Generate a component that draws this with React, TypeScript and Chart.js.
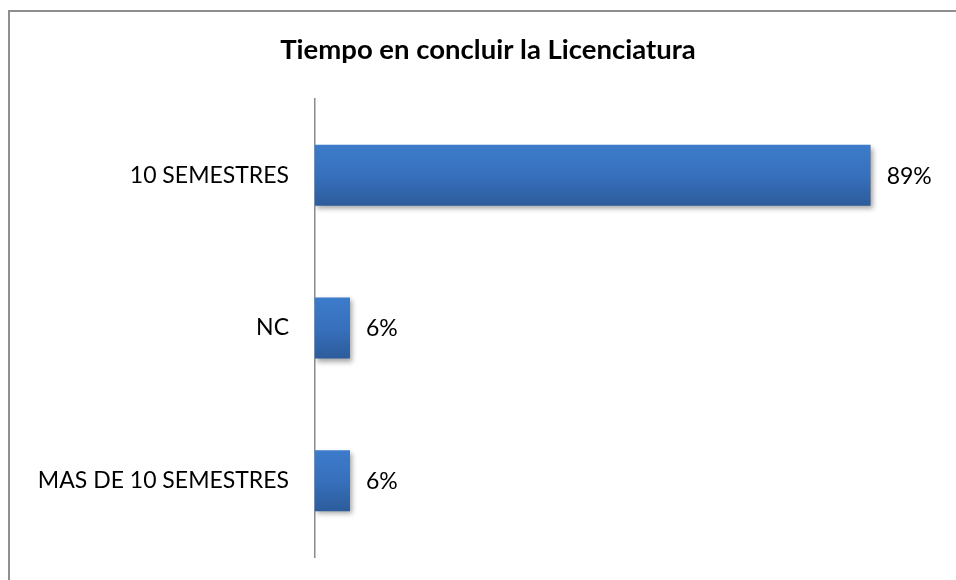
import React, { useEffect, useRef } from "react";
import { Chart, registerables } from "chart.js";

Chart.register(...registerables);

const TITLE = "Tiempo en concluir la Licenciatura";
const categories = ["10 SEMESTRES", "NC", "MAS DE 10 SEMESTRES"];
const values = [88.9, 5.6, 5.6];
const valueLabels = ["89%", "6%", "6%"];
const axisMax = 100;

const FONT = "Lato, 'Open Sans', sans-serif";

export default function App() {
  const ref = useRef<HTMLCanvasElement | null>(null);

  useEffect(() => {
    if (!ref.current) return;

    const frame = {
      id: "frame",
      beforeDraw(chart: any) {
        const c = chart.ctx;
        c.save();
        c.fillStyle = "#ffffff";
        c.fillRect(0, 0, chart.width, chart.height);
        c.strokeStyle = "#8f8f8f";
        c.lineWidth = 2;
        c.beginPath();
        c.moveTo(9, chart.height);
        c.lineTo(9, 11);
        c.lineTo(chart.width, 11);
        c.stroke();
        c.fillStyle = "#000";
        c.font = `bold 27.5px ${FONT}`;
        c.textAlign = "center";
        c.textBaseline = "middle";
        c.fillText(TITLE, 488, 50);
        c.restore();
      },
    };

    const shadow = {
      id: "barShadow",
      beforeDatasetDraw(chart: any) {
        const c = chart.ctx;
        c.save();
        c.shadowColor = "rgba(0,0,0,0.35)";
        c.shadowBlur = 5;
        c.shadowOffsetX = 2;
        c.shadowOffsetY = 3;
      },
      afterDatasetDraw(chart: any) {
        chart.ctx.restore();
      },
    };

    const labelsPlugin = {
      id: "valueLabels",
      afterDatasetsDraw(chart: any) {
        const c = chart.ctx;
        const meta = chart.getDatasetMeta(0);
        c.save();
        c.fillStyle = "#000";
        c.font = `23px ${FONT}`;
        c.textAlign = "left";
        c.textBaseline = "middle";
        meta.data.forEach((bar: any, i: number) => {
          c.fillText(valueLabels[i], bar.x + 16, bar.y + 1);
        });
        c.restore();
      },
    };

    const chart = new Chart(ref.current, {
      type: "bar",
      data: {
        labels: categories,
        datasets: [
          {
            data: values,
            categoryPercentage: 0.8,
            barPercentage: 0.5,
            borderWidth: 0,
            backgroundColor: (ctx: any) => {
              const ch = ctx.chart;
              const y = ch.scales?.y;
              const area = ch.chartArea;
              if (!y || !area) return "#3a72bb";
              const center = y.getPixelForValue(ctx.dataIndex);
              const h = (area.height / categories.length) * 0.4;
              const g = ch.ctx.createLinearGradient(0, center - h / 2, 0, center + h / 2);
              g.addColorStop(0, "#3c7ccb");
              g.addColorStop(0.5, "#3770bd");
              g.addColorStop(1, "#2c5c9b");
              return g;
            },
          },
        ],
      },
      options: {
        indexAxis: "y",
        responsive: false,
        animation: false,
        layout: { autoPadding: false, padding: { top: 99, bottom: 23, left: 0, right: 16 } },
        plugins: {
          legend: { display: false },
          title: { display: false },
          tooltip: { enabled: false },
        },
        scales: {
          x: {
            display: false,
            min: 0,
            max: axisMax,
            afterFit: (s: any) => {
              s.paddingLeft = 0;
              s.paddingRight = 0;
              s.paddingTop = 0;
              s.paddingBottom = 0;
            },
          },
          y: {
            grid: { display: false, drawTicks: false },
            border: { display: true, color: "#8a8a8a", width: 1.5 },
            ticks: { font: { family: FONT, size: 23 }, color: "#000", padding: 26 },
            afterFit: (s: any) => {
              s.width = 315;
              s.paddingTop = 0;
              s.paddingBottom = 0;
            },
          },
        },
      },
      plugins: [frame, shadow, labelsPlugin],
    });

    return () => chart.destroy();
  }, []);

  return (
    <div style={{ position: "fixed", left: 0, top: 0, width: 956, height: 580 }}>
      <canvas ref={ref} width={956} height={580} style={{ width: 956, height: 580 }} />
    </div>
  );
}
